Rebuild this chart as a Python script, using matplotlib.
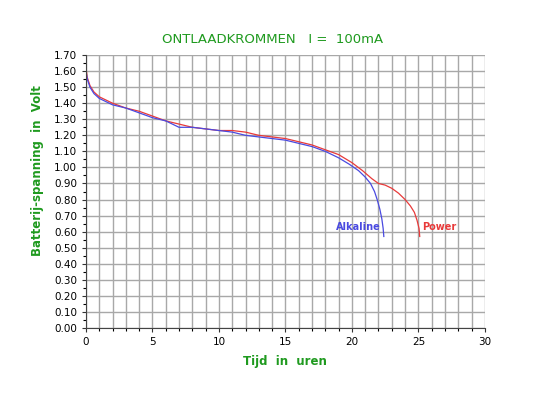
import matplotlib.pyplot as plt
from matplotlib.ticker import MultipleLocator

# Alkaline cell discharge curve (hours, volts)
alk_t = [0, 0.1, 0.3, 0.6, 1.0, 1.5, 2.0, 3.0, 4.0, 5.0, 6.0, 7.0, 8.0, 9.0, 10.0,
         11.0, 12.0, 13.0, 14.0, 15.0, 16.0, 17.0, 18.0, 19.0, 19.8, 20.5, 21.0,
         21.4, 21.7, 21.9, 22.1, 22.25, 22.35, 22.4]
alk_v = [1.60, 1.55, 1.50, 1.46, 1.43, 1.41, 1.39, 1.37, 1.34, 1.31, 1.29, 1.25, 1.25, 1.24, 1.23,
         1.22, 1.20, 1.19, 1.18, 1.17, 1.15, 1.13, 1.10, 1.06, 1.02, 0.98, 0.94,
         0.90, 0.85, 0.80, 0.74, 0.68, 0.62, 0.57]

# "Power" cell discharge curve
pow_t = [0, 0.1, 0.3, 0.6, 1.0, 1.5, 2.0, 3.0, 4.0, 5.0, 6.0, 7.0, 8.0, 9.0, 10.0,
         11.0, 12.0, 13.0, 14.0, 15.0, 16.0, 17.0, 18.0, 19.0, 20.0, 20.8, 21.5,
         22.0, 22.5, 23.0, 23.5, 24.0, 24.4, 24.7, 24.9, 25.05, 25.1]
pow_v = [1.62, 1.56, 1.51, 1.47, 1.44, 1.42, 1.40, 1.37, 1.35, 1.32, 1.29, 1.27, 1.25, 1.24, 1.23,
         1.23, 1.22, 1.20, 1.19, 1.18, 1.16, 1.14, 1.11, 1.08, 1.03, 0.98, 0.93,
         0.90, 0.89, 0.87, 0.84, 0.80, 0.76, 0.72, 0.67, 0.62, 0.57]

green = '#1f9a1f'

fig = plt.figure(figsize=(5.34, 3.99), dpi=100)
ax = fig.add_axes([0.161, 0.178, 0.747, 0.684])

ax.plot(pow_t, pow_v, color='#e83a3a', lw=0.9)
ax.plot(alk_t, alk_v, color='#4a4ae0', lw=0.9)

ax.set_xlim(0, 30)
ax.set_ylim(0, 1.7)
ax.xaxis.set_major_locator(MultipleLocator(5))
ax.xaxis.set_minor_locator(MultipleLocator(1))
ax.yaxis.set_major_locator(MultipleLocator(0.1))
ax.yaxis.set_minor_locator(MultipleLocator(0.05))
ax.set_yticklabels([f"{v:.2f}" for v in ax.get_yticks()])
ax.grid(which='major', axis='y', color='#a8a8a8', lw=1)
ax.grid(which='both', axis='x', color='#a8a8a8', lw=1)
ax.set_axisbelow(True)
ax.tick_params(labelsize=7.5, length=3, width=0.8, colors='#333333', labelcolor='black')
ax.tick_params(which='minor', length=2, width=0.8)
for s in ['top', 'right']:
    ax.spines[s].set_visible(False)
for s in ['left', 'bottom']:
    ax.spines[s].set_color('#444444')

ax.text(22.2, 0.63, 'Alkaline', color='#4a4ae0', fontsize=7, fontweight='bold', ha='right', va='center')
ax.text(25.3, 0.63, 'Power', color='#e83a3a', fontsize=7, fontweight='bold', ha='left', va='center')

fig.text(0.51, 0.9, 'ONTLAADKROMMEN   I =  100mA', color=green, fontsize=9.5, ha='center', va='center')
ax.set_xlabel('Tijd  in  uren', color=green, fontsize=8.5, fontweight='bold', labelpad=6)
fig.text(0.071, 0.572, 'Batterij-spanning  in  Volt', color=green, fontsize=8.5, fontweight='bold',
         rotation=90, ha='center', va='center')

fig.savefig('out.png')
